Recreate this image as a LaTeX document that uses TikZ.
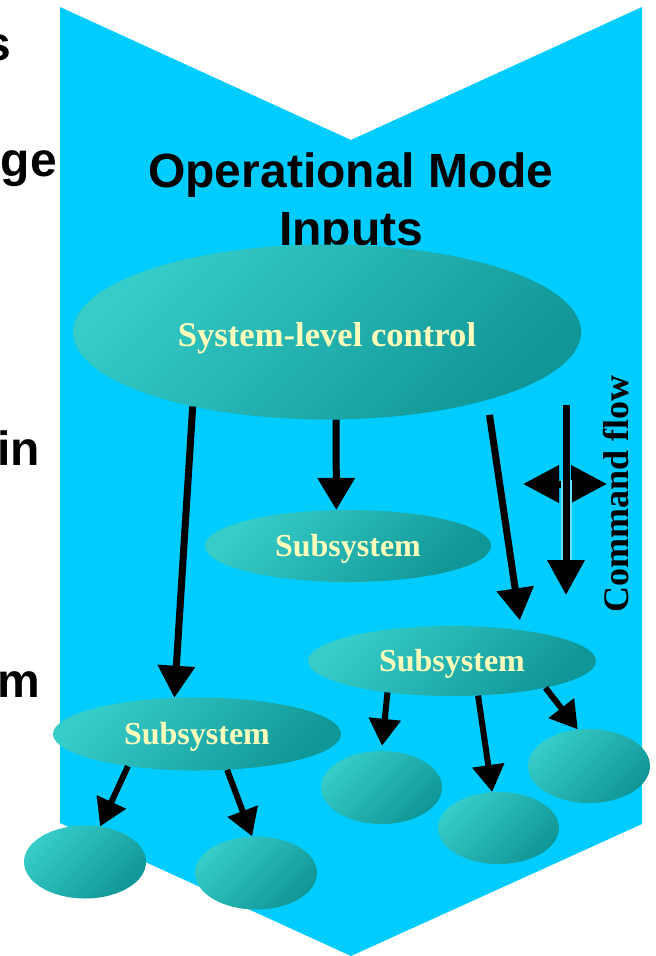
\documentclass[tikz,border=0pt]{standalone}
\usepackage{fontspec}
\setmainfont{Liberation Serif}
\newfontfamily\arialfont{Liberation Sans}
\usetikzlibrary{arrows.meta,shapes.geometric}
\definecolor{bgcyan}{RGB}{0,204,255}
\definecolor{tealA}{RGB}{54,204,200}
\definecolor{tealB}{RGB}{16,150,150}
\definecolor{labelyellow}{RGB}{255,255,187}
\begin{document}
\begin{tikzpicture}[x=1pt,y=-1pt,
  blob/.style={ellipse, inner sep=0pt, top color=tealA, bottom color=tealB, shading angle=45,
    text=labelyellow, font=\bfseries\fontsize{32}{36}\selectfont},
  sublabel/.style={text height=20pt, text depth=0pt},
  bigarrow/.style={line width=7pt, -{Triangle[width=36pt,length=32pt]}},
  smallarrow/.style={line width=6pt, -{Triangle[width=31pt,length=27pt]}},
  sidetext/.style={anchor=base east, inner sep=0pt, font=\arialfont\bfseries\fontsize{48}{55}\selectfont},
]
\useasboundingbox (0,0) rectangle (656,956);
\clip (0,0) rectangle (656,956);
% chevron background
\fill[bgcyan] (60,7) -- (351,140) -- (642,7) -- (642,824) -- (351,956) -- (60,823) -- cycle;
% cut-off text at the left edge
\node[sidetext] (fragS) at (11,60) {s};
\node[sidetext] (fragGe) at (57,176) {ge};
\node[sidetext] (fragIn) at (40,465) {in};
\node[sidetext] (fragM) at (40,697) {m};
% title
\node[anchor=north, inner sep=0pt, align=center,
  font=\arialfont\bfseries\fontsize{48}{58}\selectfont] (title) at (351,153) {Operational Mode\\Inputs};
% ellipses
\node[blob, minimum width=508pt, minimum height=175pt, text height=28pt, text depth=0pt,
  font=\bfseries\fontsize{34.6}{40}\selectfont]
  (sys) at (327,332) {System-level control};
\node[blob, sublabel, minimum width=286pt, minimum height=72pt] (sub1) at (348,546) {Subsystem};
\node[blob, sublabel, minimum width=288pt, minimum height=70pt] (sub2) at (452,661) {Subsystem};
\node[blob, sublabel, minimum width=288pt, minimum height=73pt] (sub3) at (197,734) {Subsystem};
\node[blob, minimum width=122pt, minimum height=73pt] (leafA) at (85,862) {};
\node[blob, minimum width=122pt, minimum height=73pt] (leafC) at (256,873) {};
\node[blob, minimum width=121pt, minimum height=73pt] (leafB) at (381.5,787.5) {};
\node[blob, minimum width=121pt, minimum height=72pt] (leafD) at (498.5,828) {};
\node[blob, minimum width=122pt, minimum height=74pt] (leafE) at (589,766) {};
% arrows from system-level control
\draw[bigarrow] (sys.209) -- (sub3.122);
\draw[bigarrow] (sys.276) -- (sub1.108);
\draw[bigarrow, shorten <=15pt, shorten >=10pt] (sys.337) -- (sub2.24);
% arrows from subsystems
\draw[smallarrow, shorten >=5pt] (sub2.206) -- (leafB.north);
\draw[smallarrow] (sub2.307) -- (leafD.100);
\draw[smallarrow] (sub2.344) -- (leafE.107);
\draw[smallarrow] (sub3.205) -- (leafA.67);
\draw[smallarrow] (sub3.310) -- (leafC.96);
% command flow symbol
\coordinate (cfTop) at (566,405);
\coordinate (cfBot) at (566,595);
\coordinate (cfL) at (523,484);
\coordinate (cfR) at (607,484);
\draw[line width=7pt, {Triangle[width=36pt,length=36pt]}-{Triangle[width=36pt,length=36pt]}] (cfL) -- (cfR);
\draw[line width=7pt, -{Triangle[width=36pt,length=35pt]},
  preaction={draw=bgcyan!60!white, line width=11pt, arrows=-, shorten >=30pt, shorten <=75pt}] (cfTop) -- (cfBot);
\node[rotate=90, anchor=base, inner sep=0pt, font=\bfseries\fontsize{36}{40}\selectfont]
  (cflabel) at (628,494) {Command flow};
\end{tikzpicture}
\end{document}
